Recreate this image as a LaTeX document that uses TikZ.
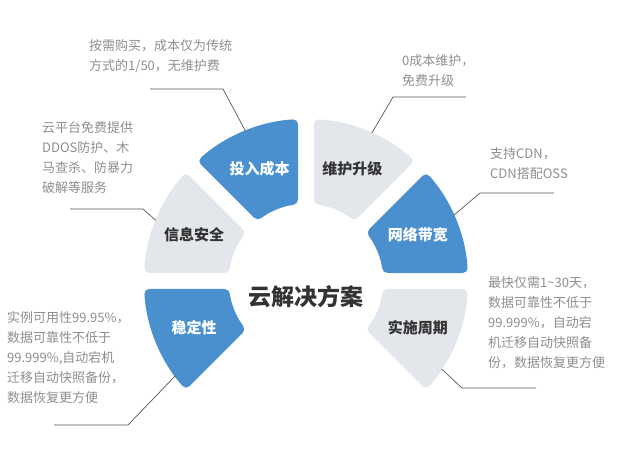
\documentclass[tikz,border=0pt]{standalone}
\usepackage{fontspec}
\setmainfont{Noto Sans CJK SC}
\usetikzlibrary{positioning,calc}
\definecolor{secblue}{HTML}{4A90CE}
\definecolor{secgray}{HTML}{E3E6EA}
\definecolor{notegray}{HTML}{8E8E8E}
\definecolor{leadgray}{HTML}{555555}
\definecolor{titlegray}{HTML}{333333}

\begin{document}
\begin{tikzpicture}[x=1pt, y=1pt,
    sector/.style={rounded corners=5pt},
    seclabel/.style={font=\fontsize{15}{15}\selectfont\bfseries},
    note/.style={anchor=north west, inner sep=0pt, align=left, text=notegray,
        font=\fontsize{13}{20}\selectfont},
    leader/.style={draw=leadgray, line width=0.7pt}]
    \useasboundingbox (0,0) rectangle (622,458);
    \coordinate (c) at (306,177);
    % ring of six sectors
    \foreach \a/\b/\col/\txt/\tcol/\nm in {0/45/secblue/网络带宽/white/wlkd,
        45/90/secgray/维护升级/titlegray/whsj, 90/135/secblue/投入成本/white/trcb,
        135/180/secgray/信息安全/titlegray/xxaq, 180/225/secblue/稳定性/white/wdx,
        -45/0/secgray/实施周期/titlegray/sszq} {
        \fill [sector, \col] ($(c)+(\a+2.83:162)$)
            arc [start angle=\a+2.83, end angle=\b-2.83, radius=162]
            -- ($(c)+(\b-5.96:77)$)
            arc [start angle=\b-5.96, end angle=\a+5.96, radius=77] -- cycle;
        \node [seclabel, text=\tcol] (\nm) at ($(c)+({(\a+\b)/2}:121)$) {\txt};
    }
    \node [font=\fontsize{23}{23}\selectfont\bfseries, text=titlegray] (title) at (306,161) {云解决方案};
    % notes
    \node [note] (n1) at (89,419) {按需购买，成本仅为传统\\方式的1/50，无维护费};
    \node [note] (n2) at (42,337) {云平台免费提供\\DDOS防护、木\\马查杀、防暴力\\破解等服务};
    \node [note] (n3) at (402,404) {0成本维护，\\免费升级};
    \node [note] (n4) at (490,311) {支持CDN，\\CDN搭配OSS};
    \node [note] (n5) at (7,147) {实例可用性99.95\%，\\数据可靠性不低于\\99.999\%,自动宕机\\迁移自动快照备份，\\数据恢复更方便};
    \node [note] (n6) at (488,182) {最快仅需1\textasciitilde30天，\\数据可靠性不低于\\99.999\%，自动宕\\机迁移自动快照备\\份，数据恢复更方便};
    % leaders
    \coordinate (e1) at ($(c)+(112:162)$);
    \coordinate (k1) at (223,369);
    \coordinate (s1) at (150,369);
    \draw [leader] (s1) -- (k1) -- (e1);
    \coordinate (e2) at ($(c)+(158:162)$);
    \coordinate (k2) at (143,249);
    \coordinate (s2) at (70,249);
    \draw [leader] (s2) -- (k2) -- (e2);
    \coordinate (e3) at ($(c)+(66:162)$);
    \coordinate (k3) at (393,361);
    \coordinate (s3) at (466,361);
    \draw [leader] (s3) -- (k3) -- (e3);
    \coordinate (e4) at ($(c)+(24:162)$);
    \coordinate (k4) at (480,265);
    \coordinate (s4) at (554,265);
    \draw [leader] (s4) -- (k4) -- (e4);
    \coordinate (e5) at ($(c)+(216:162)$);
    \coordinate (k5) at (128,33);
    \coordinate (s5) at (54,33);
    \draw [leader] (s5) -- (k5) -- (e5);
    \coordinate (e6) at ($(c)+(-33:162)$);
    \coordinate (k6) at (462,70);
    \coordinate (s6) at (536,70);
    \draw [leader] (s6) -- (k6) -- (e6);
\end{tikzpicture}
\end{document}
